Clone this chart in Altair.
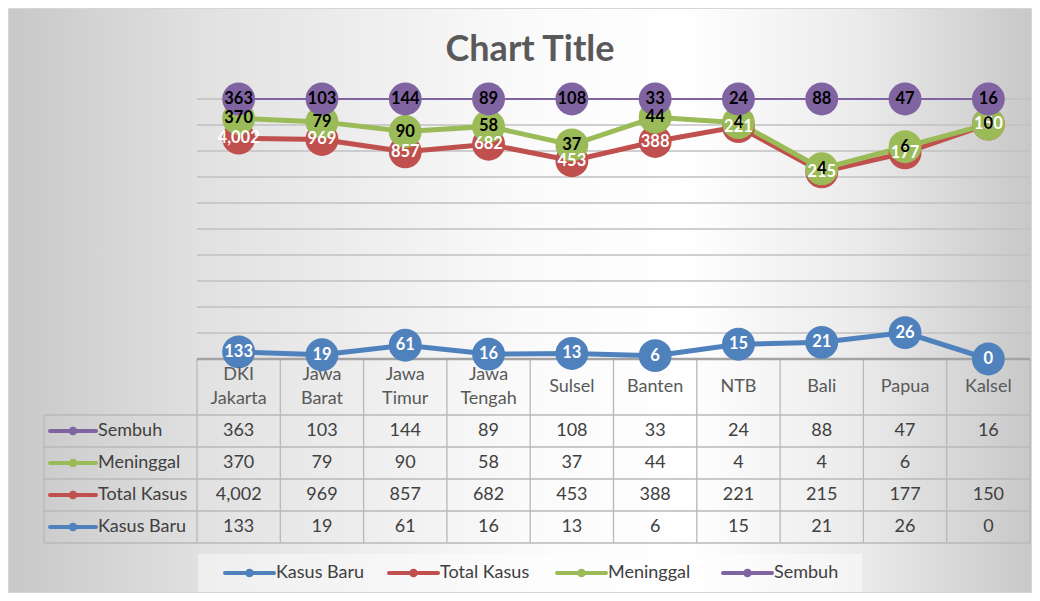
import altair as alt
import pandas as pd

# ---------------- data ----------------
categories = ["DKI Jakarta", "Jawa Barat", "Jawa Timur", "Jawa Tengah", "Sulsel",
              "Banten", "NTB", "Bali", "Papua", "Kalsel"]
kasus_baru = [133, 19, 61, 16, 13, 6, 15, 21, 26, 0]
total_kasus = [4002, 969, 857, 682, 453, 388, 221, 215, 177, 150]
meninggal = [370, 79, 90, 58, 37, 44, 4, 4, 6, None]
sembuh = [363, 103, 144, 89, 108, 33, 24, 88, 47, 16]

series_names = ["Kasus Baru", "Total Kasus", "Meninggal", "Sembuh"]
series_values = [kasus_baru, total_kasus, meninggal, sembuh]
table_order = ["Sembuh", "Meninggal", "Total Kasus", "Kasus Baru"]
grid_vals = [0.1, 0.2, 0.3, 0.4, 0.5, 0.6, 0.7, 0.8, 0.9, 1.0]

# ---------------- style / layout ----------------
series_colors = ["#4F81BD", "#C0504D", "#9BBB59", "#8064A2"]
label_colors = ["#FFFFFF", "#FFFFFF", "#000000", "#000000"]
FONT = "Lato"
FS = 18
W, H = 833, 260
PAD_L, PAD_T, PAD_R, PAD_B = 189, 91, 2, 234
LEFT = -153
HEADER_Y = 288
HEADER_LH = 24
ROW_TOP, ROW_H = 316, 32
ROW_LINES = [ROW_TOP + ROW_H * i for i in range(5)]
TABLE_BOTTOM = ROW_LINES[-1]
LEGEND_X = [28, 192, 360, 526]
LEGEND_Y = 474
BORDER = "#b8b8b8"
TEXT = "#404040"

row_center = {n: ROW_TOP + ROW_H * (i + 0.5) for i, n in enumerate(table_order)}


def fmt(v):
    return "" if v is None else f"{v:,}"


rows = []
for s_i, (name, vals) in enumerate(zip(series_names, series_values)):
    for cat, v in zip(categories, vals):
        rows.append(dict(cat=cat, series=name, order=s_i,
                         value=0 if v is None else v,
                         label=fmt(0 if v is None else v),
                         cell=fmt(v), row_y=row_center[name]))
df = pd.DataFrame(rows)

ser = pd.DataFrame({
    "series": series_names,
    "row_y": [row_center[n] for n in series_names],
    "lx": LEGEND_X,
})
ser["lx2"] = ser["lx"] + 49
ser["ldot"] = ser["lx"] + 24.5
ser["ltx"] = ser["lx"] + 51

hdr_lines = [c.split(" ") for c in categories]
hdr = pd.DataFrame({"cat": categories,
                    "txt": ["\n".join(l) for l in hdr_lines],
                    "hy": [HEADER_Y - HEADER_LH * (len(l) - 1) / 2 for l in hdr_lines]})
one = pd.DataFrame({"a": [0]})

xband = alt.Scale(type="band", domain=categories, paddingInner=0, paddingOuter=0)
yscale = alt.Scale(domain=[0, 1], nice=False, zero=True)


def X(pos=0.5):
    return alt.X("cat:N", scale=xband, axis=None, bandPosition=pos, title=None)


def series_color(rng):
    return alt.Color("series:N", scale=alt.Scale(domain=series_names, range=rng), legend=None)


# ---------------- layers ----------------
bg = alt.Chart(one).mark_rect(
    fill=alt.Gradient(
        gradient="linear", x1=0, x2=1, y1=0, y2=0,
        stops=[alt.GradientStop(color="#c8c8c8", offset=0),
               alt.GradientStop(color="#e2e2e2", offset=0.2),
               alt.GradientStop(color="#fafafa", offset=0.5),
               alt.GradientStop(color="#ffffff", offset=0.66),
               alt.GradientStop(color="#ebebeb", offset=0.83),
               alt.GradientStop(color="#c8c8c8", offset=1)]),
    stroke="#d6d6d6", strokeWidth=1,
).encode(x=alt.value(-PAD_L + 0.5), x2=alt.value(W + PAD_R - 0.5),
         y=alt.value(-PAD_T + 0.5), y2=alt.value(H + PAD_B - 0.5))

grid = alt.Chart(pd.DataFrame({"g": grid_vals})).mark_rule(
    color="#c0c0c0", strokeWidth=1.4
).encode(y=alt.Y("g:Q", scale=yscale, axis=None), x=alt.value(0), x2=alt.value(W))

vlines = alt.Chart(pd.DataFrame({"cat": categories})).mark_rule(
    color=BORDER, strokeWidth=1.3
).encode(x=X(0), y=alt.value(H), y2=alt.value(TABLE_BOTTOM))

right_line = alt.Chart(one).mark_rule(color=BORDER, strokeWidth=1.3).encode(
    x=alt.value(W), y=alt.value(H), y2=alt.value(TABLE_BOTTOM))
left_line = alt.Chart(one).mark_rule(color=BORDER, strokeWidth=1.3).encode(
    x=alt.value(LEFT), y=alt.value(ROW_TOP), y2=alt.value(TABLE_BOTTOM))
hlines = alt.Chart(pd.DataFrame({"hy": ROW_LINES})).mark_rule(
    color=BORDER, strokeWidth=1.3
).encode(y=alt.Y("hy:Q", scale=None, axis=None), x=alt.value(LEFT), x2=alt.value(W))

axis_line = alt.Chart(one).mark_rule(color="#a3a3a3", strokeWidth=2.6).encode(
    y=alt.value(H), x=alt.value(0), x2=alt.value(W))

stacked = alt.Chart(df).transform_stack(
    stack="value", groupby=["cat"], as_=["y0", "y1"], offset="normalize",
    sort=[alt.SortField(field="order", order="ascending")])

Y = alt.Y("y1:Q", scale=yscale, axis=None, title=None)

lines_thick = stacked.transform_filter(alt.datum.series != "Sembuh").mark_line(strokeWidth=5).encode(
    x=X(), y=Y, color=series_color(series_colors))
lines_thin = stacked.transform_filter(alt.datum.series == "Sembuh").mark_line(strokeWidth=2.2).encode(
    x=X(), y=Y, color=series_color(series_colors))
points = stacked.mark_circle(size=1080, opacity=1).encode(
    x=X(), y=Y, color=series_color(series_colors), order=alt.Order("order:Q"))
labels = stacked.mark_text(font=FONT, fontSize=16.5, fontWeight="bold", baseline="middle").encode(
    x=X(), y=Y, text="label:N", color=series_color(label_colors), order=alt.Order("order:Q"))

header = alt.Chart(hdr).mark_text(
    font=FONT, fontSize=FS, color="#595959", baseline="middle", lineBreak="\n", lineHeight=HEADER_LH
).encode(x=X(), y=alt.Y("hy:Q", scale=None, axis=None), text="txt:N")

cells = alt.Chart(df).mark_text(font=FONT, fontSize=FS, color=TEXT, baseline="middle").encode(
    x=X(), y=alt.Y("row_y:Q", scale=None, axis=None), text="cell:N")

RY = alt.Y("row_y:Q", scale=None, axis=None)
row_sym = alt.Chart(ser).mark_rule(strokeWidth=4, strokeCap="round").encode(
    x=alt.value(LEFT + 6), x2=alt.value(LEFT + 52), y=RY, color=series_color(series_colors))
row_dot = alt.Chart(ser).mark_circle(size=75, opacity=1).encode(
    x=alt.value(LEFT + 29), y=RY, color=series_color(series_colors))
row_txt = alt.Chart(ser).mark_text(font=FONT, fontSize=FS, color=TEXT, align="left", baseline="middle").encode(
    x=alt.value(LEFT + 54), y=RY, text="series:N")

leg_box = alt.Chart(one).mark_rect(fill="#ffffff", opacity=0.45).encode(
    x=alt.value(1), x2=alt.value(665), y=alt.value(455), y2=alt.value(493))
leg_line = alt.Chart(ser).mark_rule(strokeWidth=4, strokeCap="round").encode(
    x=alt.X("lx:Q", scale=None, axis=None), x2="lx2:Q", y=alt.value(LEGEND_Y),
    color=series_color(series_colors))
leg_dot = alt.Chart(ser).mark_circle(size=75, opacity=1).encode(
    x=alt.X("ldot:Q", scale=None, axis=None), y=alt.value(LEGEND_Y), color=series_color(series_colors))
leg_txt = alt.Chart(ser).mark_text(font=FONT, fontSize=FS, color=TEXT, align="left", baseline="middle").encode(
    x=alt.X("ltx:Q", scale=None, axis=None), y=alt.value(LEGEND_Y), text="series:N")

title = alt.Chart(one).mark_text(
    font=FONT, fontSize=36, fontWeight="bold", color="#595959", baseline="middle", align="center"
).encode(x=alt.value(333), y=alt.value(-49), text=alt.value("Chart Title"))

chart = alt.layer(
    bg, grid, vlines, right_line, left_line, hlines, axis_line,
    lines_thick, lines_thin, points, labels, header, cells, row_sym, row_dot, row_txt,
    leg_box, leg_line, leg_dot, leg_txt, title,
).resolve_scale(
    x="independent", y="independent", color="independent"
).properties(
    width=W, height=H, autosize="none",
    padding={"left": PAD_L, "top": PAD_T, "right": PAD_R, "bottom": PAD_B},
).configure_view(stroke=None)

chart.save("out.html", embed_options={"renderer": "svg", "actions": False})
